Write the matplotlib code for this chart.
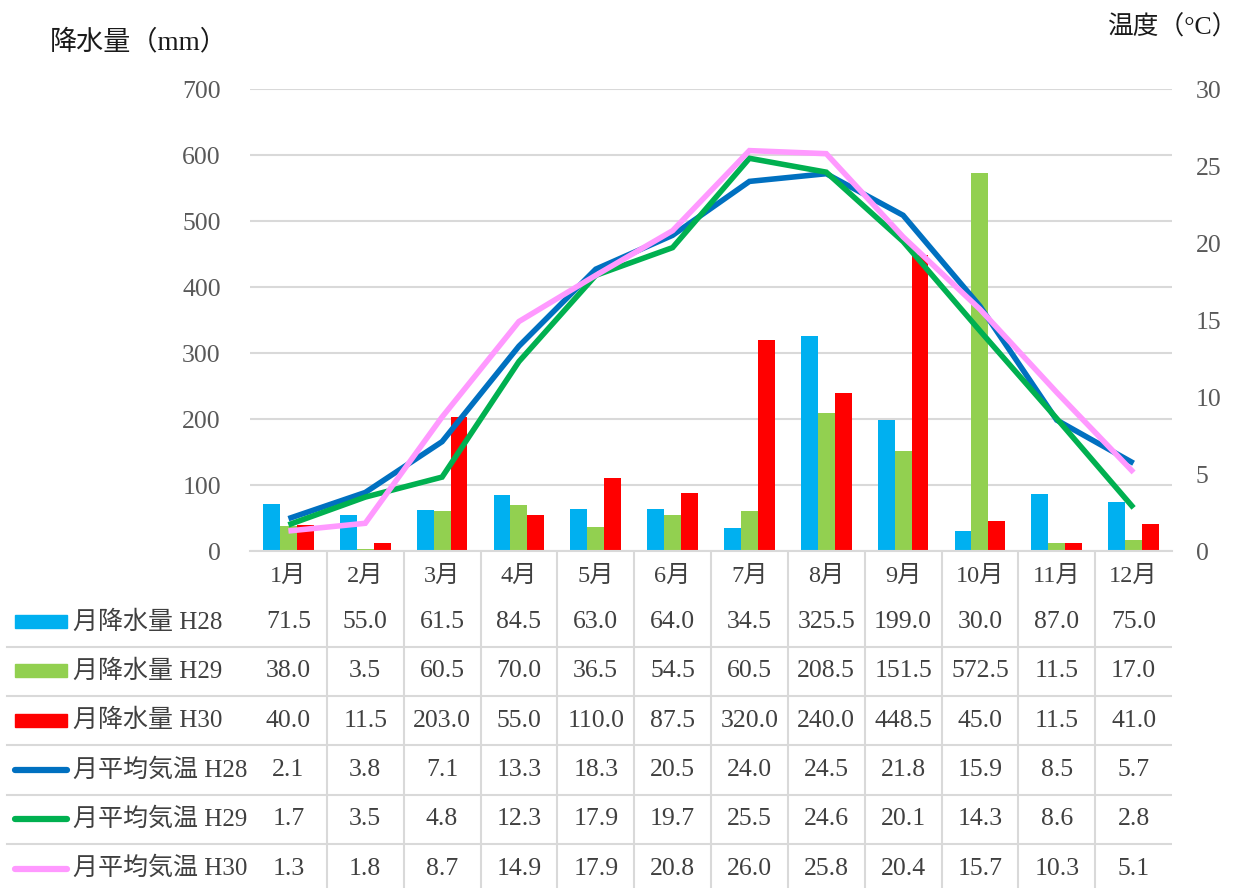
import numpy as np
import matplotlib.pyplot as plt

# データ
months = ["1月", "2月", "3月", "4月", "5月", "6月", "7月", "8月", "9月", "10月", "11月", "12月"]
rain_h28 = [71.5, 55.0, 61.5, 84.5, 63.0, 64.0, 34.5, 325.5, 199.0, 30.0, 87.0, 75.0]
rain_h29 = [38.0, 3.5, 60.5, 70.0, 36.5, 54.5, 60.5, 208.5, 151.5, 572.5, 11.5, 17.0]
rain_h30 = [40.0, 11.5, 203.0, 55.0, 110.0, 87.5, 320.0, 240.0, 448.5, 45.0, 11.5, 41.0]
temp_h28 = [2.1, 3.8, 7.1, 13.3, 18.3, 20.5, 24.0, 24.5, 21.8, 15.9, 8.5, 5.7]
temp_h29 = [1.7, 3.5, 4.8, 12.3, 17.9, 19.7, 25.5, 24.6, 20.1, 14.3, 8.6, 2.8]
temp_h30 = [1.3, 1.8, 8.7, 14.9, 17.9, 20.8, 26.0, 25.8, 20.4, 15.7, 10.3, 5.1]

bar_names = ["月降水量 H28", "月降水量 H29", "月降水量 H30"]
line_names = ["月平均気温 H28", "月平均気温 H29", "月平均気温 H30"]
bar_colors = ["#00B0F0", "#92D050", "#FF0000"]
line_colors = ["#0070C0", "#00B050", "#FF99FF"]

FONT = ["Liberation Serif", "Noto Sans CJK JP", "DejaVu Sans"]
plt.rcParams["font.family"] = FONT

W, H = 1247, 888
fig = plt.figure(figsize=(W / 100, H / 100), dpi=100)

# 描画エリア (ピクセル)
L, R, T, B = 250, 1172, 89, 551
ax = fig.add_axes([L / W, 1 - B / H, (R - L) / W, (B - T) / H])
ax2 = ax.twinx()

x = np.arange(len(months))
bw = 0.22
rains = [rain_h28, rain_h29, rain_h30]
for i, (vals, c) in enumerate(zip(rains, bar_colors)):
    ax.bar(x + (i - 1) * bw, vals, width=bw, color=c, zorder=2)

ax.set_xlim(-0.5, 11.5)
ax.set_ylim(0, 700)
ax.set_yticks(range(0, 701, 100))
ax.grid(axis="y", color="#d9d9d9", linewidth=1.5, zorder=0)
ax.set_axisbelow(True)
ax.set_xticks([])

temps = [temp_h28, temp_h29, temp_h30]
for vals, c in zip(temps, line_colors):
    ax2.plot(x, vals, color=c, linewidth=4, solid_joinstyle="miter", solid_capstyle="butt")
ax2.set_ylim(0, 30)
ax2.set_yticks(range(0, 31, 5))

for a in (ax, ax2):
    for s in a.spines.values():
        s.set_visible(False)
    a.tick_params(length=0, labelsize=18.5, labelcolor="#595959")
ax.spines["bottom"].set_visible(True)
ax.spines["bottom"].set_color("#d9d9d9")
ax.spines["bottom"].set_linewidth(1.5)
ax.tick_params(axis="y", pad=21)
ax2.tick_params(axis="y", pad=17)

fig.text(50 / W, 1 - 42 / H, "降水量（mm）", fontsize=19.5, color="#1a1a1a", va="center", ha="left")
fig.text(1238 / W, 1 - 27 / H, "温度（°C）", fontsize=18.5, color="#1a1a1a", va="center", ha="right")

# データテーブル
tax = fig.add_axes([0, 0, R / W, (H - B) / H])
tax.set_xlim(0, R)
tax.set_ylim(H, B)
tax.axis("off")

colw = (R - L) / 12
row_y = [622 + k * 49.3 for k in range(6)]
txt_color = "#404040"

for k in range(1, 12):
    tax.plot([L + k * colw] * 2, [B, H], color="#d9d9d9", linewidth=1.5)
for k in range(5):
    yy = (row_y[k] + row_y[k + 1]) / 2
    tax.plot([7, R], [yy, yy], color="#d9d9d9", linewidth=1.5)

for j, m in enumerate(months):
    tax.text(L + (j + 0.5) * colw, 576, m, ha="center", va="center", fontsize=17.5, color=txt_color)

rows = rains + temps
names = bar_names + line_names
for k, (vals, name) in enumerate(zip(rows, names)):
    yy = row_y[k]
    if k < 3:
        tax.add_patch(plt.Rectangle((15, yy - 7), 52, 13, color=bar_colors[k]))
    else:
        tax.plot([15, 67], [yy, yy], color=line_colors[k - 3], linewidth=4.5, solid_capstyle="round")
    tax.text(73, yy, name, ha="left", va="center", fontsize=18, color=txt_color)
    for j, v in enumerate(vals):
        tax.text(L + (j + 0.5) * colw, yy, f"{v:.1f}", ha="center", va="center", fontsize=18.5, color=txt_color)

fig.savefig("out.png", dpi=100)
